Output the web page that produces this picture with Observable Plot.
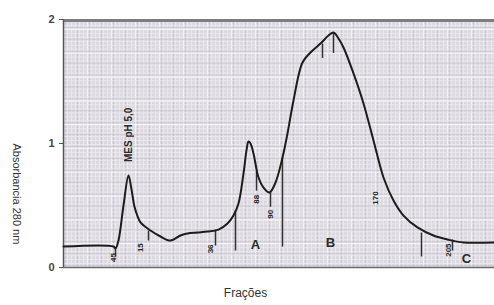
<!DOCTYPE html>
<html>
<head>
<meta charset="utf-8">
<script src="https://cdn.jsdelivr.net/npm/d3@7"></script>
<script src="https://cdn.jsdelivr.net/npm/@observablehq/plot@0.6"></script>
<style>
  html, body { margin: 0; padding: 0; background: #fff; }
  #chart { width: 494px; height: 305px; overflow: hidden; }
</style>
</head>
<body>
<div id="chart"></div>
<script>
// Fraction position (arbitrary elution units) and absorbance at 280 nm
const fractions = [0, 25, 26, 27.5, 30, 32.5, 34, 35.5, 37, 38.5, 43.5, 48.5, 53.5, 58.5, 62, 67, 72, 77.5, 82, 85, 87.5, 90, 91.5, 92.5, 93.5, 95, 97.5, 100, 103, 106, 109.5, 112, 115, 119.5, 123.5, 128.5, 132.5, 135, 137.5, 140, 145, 150, 155, 160, 165, 170, 177, 185, 192, 200, 215.5];
const absorbance = [0.169, 0.169, 0.153, 0.218, 0.50, 0.742, 0.63, 0.49, 0.415, 0.363, 0.298, 0.25, 0.218, 0.258, 0.274, 0.282, 0.29, 0.306, 0.355, 0.419, 0.516, 0.758, 0.944, 1.016, 1.0, 0.919, 0.726, 0.645, 0.605, 0.685, 0.887, 1.081, 1.347, 1.653, 1.734, 1.806, 1.871, 1.895, 1.847, 1.774, 1.565, 1.323, 1.024, 0.726, 0.540, 0.419, 0.323, 0.258, 0.226, 0.202, 0.202];

// Hand-drawn fraction cut marks
const markX  = [26, 42.5, 76, 86, 96.5, 103.5, 109.5, 129.5, 135, 179, 194.5];
const markY1 = [0.153, 0.298, 0.306, 0.46, 0.78, 0.605, 0.887, 1.806, 1.895, 0.282, 0.226];
const markY2 = [0.089, 0.218, 0.177, 0.137, 0.62, 0.49, 0.169, 1.69, 1.73, 0.089, 0.137];

// Handwritten notes
const noteText = ["45", "15", "36", "88", "90", "170", "205"];
const noteX    = [25, 38.5, 73.5, 96.5, 103.5, 156, 192.5];
const noteY    = [0.08, 0.16, 0.15, 0.55, 0.43, 0.56, 0.14];
const poolText = ["A", "B", "C"];
const poolX    = [96, 133.5, 201.5];
const poolY    = [0.18, 0.195, 0.07];
const bufferText = ["MES pH 5,0"];
const bufferX = [32.5];
const bufferY = [1.07];

const yTicks = [0, 1, 2];

const data = fractions.map((f, i) => ({f, a: absorbance[i]}));
const marks = markX.map((x, i) => ({x, y1: markY1[i], y2: markY2[i]}));
const notes = noteText.map((t, i) => ({t, x: noteX[i], y: noteY[i]}));
const pools = poolText.map((t, i) => ({t, x: poolX[i], y: poolY[i]}));
const buffer = bufferText.map((t, i) => ({t, x: bufferX[i], y: bufferY[i]}));

const chart = Plot.plot({
  width: 494,
  height: 305,
  marginLeft: 63,
  marginRight: 0,
  marginTop: 19,
  marginBottom: 38,
  x: {type: "linear", domain: [0, 215.5], axis: null},
  y: {type: "linear", domain: [0, 2], axis: null},
  style: {fontFamily: "Liberation Sans, Arial, sans-serif", fontSize: "11px", color: "#333", background: "#fff"},
  marks: [
    Plot.frame({fill: "#dcdae0", stroke: null}),
    // graph paper grid
    Plot.ruleX(d3.range(0, 216, 2), {stroke: "#eceaf0", strokeWidth: 0.8}),
    Plot.ruleX(d3.range(1, 216, 6), {stroke: "#c6c4cb", strokeWidth: 0.8}),
    Plot.ruleX(d3.range(0, 216, 12), {stroke: "#f4f3f6", strokeWidth: 1.2}),
    Plot.ruleY(d3.range(0, 2, 0.032), {stroke: "#eceaf0", strokeWidth: 0.8}),
    Plot.ruleY(d3.range(0.016, 2, 0.096), {stroke: "#c9c7ce", strokeWidth: 0.8}),
    Plot.ruleY(d3.range(0, 2, 0.192), {stroke: "#f4f3f6", strokeWidth: 1.2}),
    Plot.ruleY([2], {stroke: "#7d7d82", strokeWidth: 3, dy: 1}),
    Plot.ruleY([0], {stroke: "#6a6a70", strokeWidth: 1.5}),
    Plot.ruleX([0], {stroke: "#555", strokeWidth: 1.5}),
    Plot.axisY({ticks: yTicks, tickFormat: d => String(d), tickSize: 4, tickPadding: 5, label: null, fontWeight: "bold", fontSize: 11, stroke: "#555", fill: "#444"}),
    Plot.link(marks, {x1: "x", x2: "x", y1: "y1", y2: "y2", stroke: "#333", strokeWidth: 1.5}),
    Plot.line(data, {x: "f", y: "a", stroke: "#1c1c1c", strokeWidth: 2, curve: "catmull-rom"}),
    Plot.text(notes, {x: "x", y: "y", text: "t", rotate: -90, fontSize: 8, fontWeight: "bold", fill: "#2a2a2a"}),
    Plot.text(pools, {x: "x", y: "y", text: "t", fontSize: 13, fontWeight: "bold", fill: "#2a2a2a"}),
    Plot.text(buffer, {x: "x", y: "y", text: "t", rotate: -90, fontSize: 10, fontWeight: "bold", fill: "#2a2a2a"}),
    Plot.text(["Absorbancia 280 nm"], {frameAnchor: "left", dx: -47, rotate: 90, fontSize: 11, fill: "#333"}),
    Plot.text(["Frações"], {x: 91, frameAnchor: "bottom", dy: 29, fontSize: 12, fill: "#333"})
  ]
});
document.getElementById("chart").appendChild(chart);
</script>
</body>
</html>
